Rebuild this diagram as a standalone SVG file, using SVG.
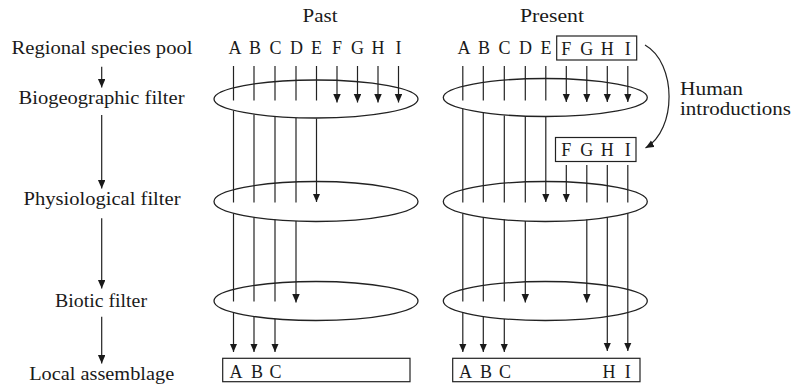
<svg xmlns="http://www.w3.org/2000/svg" width="793" height="385" viewBox="0 0 793 385">
<style>
text{font-family:"Liberation Serif","Times New Roman",serif;fill:#1a1a1a;}
.lbl{font-size:18px;text-anchor:middle;}
.ltr{font-size:18px;text-anchor:middle;}
.hd{font-size:18px;text-anchor:middle;}
.ell{fill:none;stroke:#222;stroke-width:1.3;}
.box{fill:none;stroke:#222;stroke-width:1.2;}
.c line,.c path{stroke:#222;stroke-width:1.2;fill:none;}
.a{marker-end:url(#ah);}
</style>
<defs>
<marker id="ah" markerUnits="userSpaceOnUse" markerWidth="9" markerHeight="8" refX="8.5" refY="3.75" orient="auto">
<path d="M0,0 L8.5,3.75 L0,7.5 z" fill="#1a1a1a"/>
</marker>
</defs>
<rect width="793" height="385" fill="#fff"/>

<g id="heading-past"><text class="hd" x="320" y="22" textLength="35" lengthAdjust="spacingAndGlyphs">Past</text></g>
<g id="heading-present"><text class="hd" x="552" y="22" textLength="64" lengthAdjust="spacingAndGlyphs">Present</text></g>

<g id="label-regional"><text class="lbl" x="102" y="53.5" textLength="181" lengthAdjust="spacingAndGlyphs">Regional species pool</text></g>
<g id="label-biogeographic"><text class="lbl" x="101.5" y="104" textLength="166" lengthAdjust="spacingAndGlyphs">Biogeographic filter</text></g>
<g id="label-physiological"><text class="lbl" x="102" y="205" textLength="157" lengthAdjust="spacingAndGlyphs">Physiological filter</text></g>
<g id="label-biotic"><text class="lbl" x="101" y="307" textLength="92" lengthAdjust="spacingAndGlyphs">Biotic filter</text></g>
<g id="label-local"><text class="lbl" x="101.7" y="380" textLength="145" lengthAdjust="spacingAndGlyphs">Local assemblage</text></g>

<g id="pool-past">
<text class="ltr" x="235" y="54">A</text><text class="ltr" x="255" y="54">B</text><text class="ltr" x="275.5" y="54">C</text><text class="ltr" x="296.5" y="54">D</text><text class="ltr" x="316.5" y="54">E</text><text class="ltr" x="337" y="54">F</text><text class="ltr" x="357.5" y="54">G</text><text class="ltr" x="378" y="54">H</text><text class="ltr" x="398.5" y="54">I</text>
</g>
<g id="pool-present">
<text class="ltr" x="464" y="54">A</text><text class="ltr" x="484" y="54">B</text><text class="ltr" x="504.5" y="54">C</text><text class="ltr" x="525.5" y="54">D</text><text class="ltr" x="546" y="54">E</text>
<rect class="box" x="556.7" y="36" width="80" height="24"/>
<text class="ltr" x="566.3" y="55">F</text><text class="ltr" x="586.8" y="55">G</text><text class="ltr" x="607.3" y="55">H</text><text class="ltr" x="627.8" y="55">I</text>
</g>
<g id="introduced-present">
<rect class="box" x="555.5" y="137.5" width="80.5" height="24"/>
<text class="ltr" x="566.3" y="155.5">F</text><text class="ltr" x="586.8" y="155.5">G</text><text class="ltr" x="607.3" y="155.5">H</text><text class="ltr" x="627.8" y="155.5">I</text>
</g>

<g id="filter-biogeo-past"><ellipse class="ell" cx="316" cy="99" rx="102" ry="19"/></g>
<g id="filter-physio-past"><ellipse class="ell" cx="316" cy="201.5" rx="102" ry="20"/></g>
<g id="filter-biotic-past"><ellipse class="ell" cx="316" cy="301" rx="102" ry="19.5"/></g>
<g id="filter-biogeo-present"><ellipse class="ell" cx="545.3" cy="97.5" rx="102" ry="19"/></g>
<g id="filter-physio-present"><ellipse class="ell" cx="545.3" cy="201.5" rx="102" ry="20"/></g>
<g id="filter-biotic-present"><ellipse class="ell" cx="545.3" cy="301" rx="102" ry="19.5"/></g>

<g id="local-past">
<rect class="box" x="222.7" y="358.3" width="187.3" height="23.4"/>
<text class="ltr" x="236" y="377.8">A</text><text class="ltr" x="257" y="377.8">B</text><text class="ltr" x="275.5" y="377.8">C</text>
</g>
<g id="local-present">
<rect class="box" x="452.7" y="358.3" width="187.3" height="23.4"/>
<text class="ltr" x="465.5" y="377.8">A</text><text class="ltr" x="486" y="377.8">B</text><text class="ltr" x="505" y="377.8">C</text><text class="ltr" x="609" y="377.8">H</text><text class="ltr" x="627.8" y="377.8">I</text>
</g>

<g id="label-human"><text x="680" y="95" font-size="18" textLength="63" lengthAdjust="spacingAndGlyphs">Human</text><text x="680" y="115" font-size="18" textLength="111" lengthAdjust="spacingAndGlyphs">introductions</text></g>

<g id="connectors" class="c">
<line class="a" x1="101.7" y1="66.7" x2="101.7" y2="87.5"/>
<line class="a" x1="101.7" y1="115" x2="101.7" y2="188.5"/>
<line class="a" x1="101.7" y1="218.3" x2="101.7" y2="288.5"/>
<line class="a" x1="101.7" y1="316.7" x2="101.7" y2="363.5"/>

<!-- past -->
<line x1="233.5" y1="66" x2="233.5" y2="100.5"/><line x1="233.5" y1="110.5" x2="233.5" y2="202.5"/><line x1="233.5" y1="213.5" x2="233.5" y2="301.5"/><line class="a" x1="233.5" y1="312.5" x2="233.5" y2="352"/>
<line x1="254" y1="66" x2="254" y2="100.5"/><line x1="254" y1="114.5" x2="254" y2="202.5"/><line x1="254" y1="217.5" x2="254" y2="301.5"/><line class="a" x1="254" y1="316.5" x2="254" y2="352"/>
<line x1="275" y1="66" x2="275" y2="100.5"/><line x1="275" y1="117" x2="275" y2="202.5"/><line x1="275" y1="219.5" x2="275" y2="301.5"/><line class="a" x1="275" y1="319" x2="275" y2="352"/>
<line x1="296" y1="66" x2="296" y2="100.5"/><line x1="296" y1="118" x2="296" y2="202.5"/><line class="a" x1="296" y1="221" x2="296" y2="302.5"/>
<line x1="316.5" y1="66" x2="316.5" y2="100.5"/><line class="a" x1="316.5" y1="118.5" x2="316.5" y2="202"/>
<line class="a" x1="337" y1="66" x2="337" y2="102.5"/>
<line class="a" x1="357.5" y1="66" x2="357.5" y2="102.5"/>
<line class="a" x1="378" y1="66" x2="378" y2="102.5"/>
<line class="a" x1="398.5" y1="66" x2="398.5" y2="102.5"/>

<!-- present -->
<line x1="462.8" y1="66" x2="462.8" y2="100.5"/><line x1="462.8" y1="109" x2="462.8" y2="202.5"/><line x1="462.8" y1="213.5" x2="462.8" y2="301.5"/><line class="a" x1="462.8" y1="312.5" x2="462.8" y2="352"/>
<line x1="483.3" y1="66" x2="483.3" y2="100.5"/><line x1="483.3" y1="113" x2="483.3" y2="202.5"/><line x1="483.3" y1="217.5" x2="483.3" y2="301.5"/><line class="a" x1="483.3" y1="316.5" x2="483.3" y2="352"/>
<line x1="504.3" y1="66" x2="504.3" y2="100.5"/><line x1="504.3" y1="115.5" x2="504.3" y2="202.5"/><line x1="504.3" y1="219.5" x2="504.3" y2="301.5"/><line class="a" x1="504.3" y1="319" x2="504.3" y2="352"/>
<line x1="525.3" y1="66" x2="525.3" y2="100.5"/><line x1="525.3" y1="116.5" x2="525.3" y2="202.5"/><line class="a" x1="525.3" y1="221" x2="525.3" y2="302.5"/>
<line x1="545.8" y1="66" x2="545.8" y2="100.5"/><line class="a" x1="545.8" y1="117" x2="545.8" y2="202"/>
<line class="a" x1="566.3" y1="66" x2="566.3" y2="102"/>
<line class="a" x1="586.8" y1="66" x2="586.8" y2="102"/>
<line class="a" x1="607.3" y1="66" x2="607.3" y2="102"/>
<line class="a" x1="627.8" y1="66" x2="627.8" y2="102"/>
<line class="a" x1="566.3" y1="165" x2="566.3" y2="202"/>
<line x1="586.8" y1="165" x2="586.8" y2="202.5"/><line class="a" x1="586.8" y1="219.5" x2="586.8" y2="302.5"/>
<line x1="607.3" y1="165" x2="607.3" y2="202.5"/><line class="a" x1="607.3" y1="217" x2="607.3" y2="351"/>
<line x1="627.8" y1="165" x2="627.8" y2="202.5"/><line class="a" x1="627.8" y1="213" x2="627.8" y2="351"/>

<path class="a" d="M645,45 C677,63 677,130 645.5,148"/>
</g>
</svg>
